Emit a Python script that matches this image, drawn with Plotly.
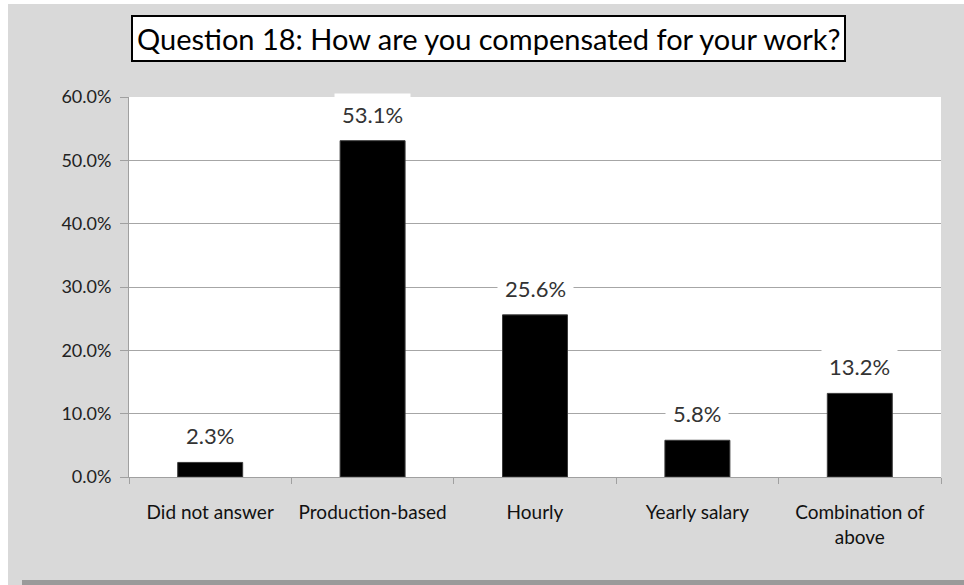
import plotly.graph_objects as go

categories = ["Did not answer", "Production-based", "Hourly", "Yearly salary", "Combination of<br>above"]
values = [2.3, 53.1, 25.6, 5.8, 13.2]
y_ticks = [0, 10, 20, 30, 40, 50, 60]
y_tick_labels = ["0.0%", "10.0%", "20.0%", "30.0%", "40.0%", "50.0%", "60.0%"]

font_family = "Lato, 'Open Sans', sans-serif"

W, H = 956, 581
L, R, T, B = 121, 23, 93, 108
plot_w, plot_h = W - L - R, H - T - B

fig = go.Figure()
fig.add_trace(go.Bar(
    x=categories,
    y=values,
    marker=dict(color="black", line=dict(color="#3a3a3a", width=1)),
    hoverinfo="x+y",
))

# data labels on white boxes, as in the original spreadsheet chart
for cat, val in zip(categories, values):
    fig.add_annotation(
        x=cat, y=val, xref="x", yref="y",
        text=f"{val:.1f}%",
        showarrow=False,
        yanchor="bottom",
        yshift=5,
        bgcolor="white",
        borderpad=7,
        font=dict(family=font_family, size=22, color="#333333"),
    )

# title in a bordered box
fig.add_annotation(
    x=(480 - L) / plot_w, y=(H - B - 35) / plot_h, xref="paper", yref="paper",
    text="Question 18: How are you compensated for your work?",
    showarrow=False,
    xanchor="center", yanchor="middle",
    bgcolor="white",
    bordercolor="black",
    borderwidth=2,
    borderpad=4,
    font=dict(family=font_family, size=29, color="black"),
)

# shadow along the bottom edge
fig.add_shape(type="rect", xref="paper", yref="paper",
              x0=(14 - L) / plot_w, x1=1.1, y0=-0.4, y1=-(B - 5) / plot_h,
              fillcolor="#9a9a9a", line_width=0, layer="above")

fig.update_layout(
    width=W, height=H,
    margin=dict(l=L, r=R, t=T, b=B),
    paper_bgcolor="#d9d9d9",
    plot_bgcolor="white",
    bargap=0.6,
    showlegend=False,
    font=dict(family=font_family, color="#222222"),
)
fig.update_xaxes(
    showline=True, linecolor="#a0a0a0", linewidth=1,
    ticks="outside", tickson="boundaries", ticklen=6, tickcolor="#a0a0a0",
    tickfont=dict(size=19, color="#111111"),
    ticklabelstandoff=18,
    showgrid=False,
)
fig.update_yaxes(
    range=[0, 60],
    tickvals=y_ticks, ticktext=y_tick_labels,
    showline=True, linecolor="#a0a0a0", linewidth=1,
    ticks="outside", ticklen=8, tickcolor="#a0a0a0",
    ticklabelstandoff=5,
    showgrid=True, gridcolor="#a6a6a6", gridwidth=1,
    tickfont=dict(size=18, color="#222222"),
    zeroline=False,
)

fig.write_html("out.html", post_script="document.body.style.margin='4px 0 0 8px';")
